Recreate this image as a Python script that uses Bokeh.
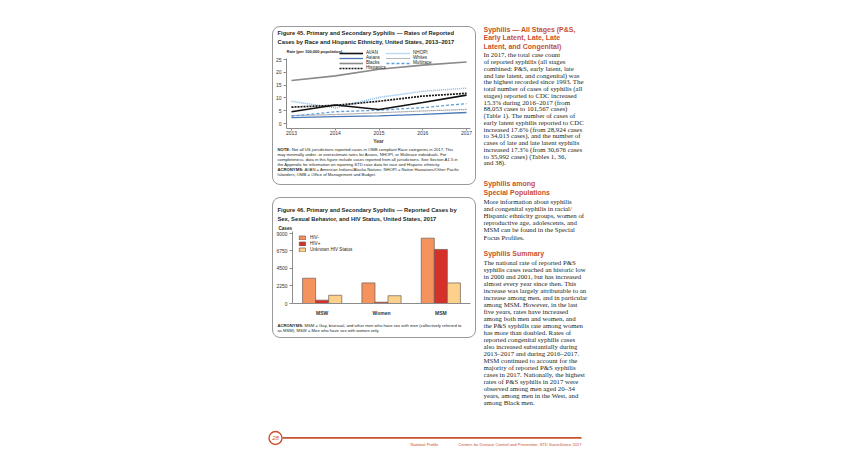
from bokeh.plotting import figure
from bokeh.models import (Range1d, FixedTicker, Label, Legend, LegendItem,
                          ColumnDataSource, FactorRange, Spacer)
from bokeh.layouts import row, column
from bokeh.transform import dodge
from bokeh.core.properties import value
from bokeh.embed import file_html
from bokeh.resources import INLINE

SANS = "Liberation Sans"
SERIF = "Liberation Serif"
ORANGE = "#c9512d"
TXT = "#231f20"
AX = "#8c8c8c"

# ---------------- data: Figure 45 ----------------
years = [2013, 2014, 2015, 2016, 2017]
rate_aian = [4.6, 7.2, 5.5, 8.2, 11.1]
rate_asian = [2.3, 2.7, 3.0, 3.6, 4.3]
rate_black = [16.8, 18.6, 21.2, 22.8, 24.0]
rate_hisp = [6.4, 7.1, 8.7, 10.7, 11.8]
rate_nhopi = [8.7, 6.1, 10.2, 12.6, 13.8]
rate_white = [3.1, 3.5, 4.2, 4.9, 5.5]
rate_multi = [2.9, 4.6, 5.2, 6.2, 7.8]
y45_ticks = [0, 5, 10, 15, 20, 25]

# ---------------- data: Figure 46 ----------------
groups = ["MSW", "Women", "MSM"]
cases_neg = [3250, 2650, 8400]
cases_pos = [430, 170, 6950]
cases_unk = [1060, 1000, 2640]
y46_ticks = [0, 2250, 4500, 6750, 9000]

# ---------------- texts ----------------
title45 = ["Figure 45. Primary and Secondary Syphilis \u2014 Rates of Reported",
           "Cases by Race and Hispanic Ethnicity, United States, 2013\u20132017"]
note45 = [("NOTE:", "Not all US jurisdictions reported cases in OMB compliant Race categories in 2017. This"),
          ("", "may minimally under- or overestimate rates for Asians, NHOPI, or Multirace individuals. For"),
          ("", "completeness, data in this figure include cases reported from all jurisdictions. See Section A1.5 in"),
          ("", "the Appendix for information on reporting STD case data for race and Hispanic ethnicity."),
          ("ACRONYMS:", "AI/AN = American Indians/Alaska Natives; NHOPI = Native Hawaiians/Other Pacific"),
          ("", "Islanders; OMB = Office of Management and Budget.")]
title46 = ["Figure 46. Primary and Secondary Syphilis \u2014 Reported Cases by",
           "Sex, Sexual Behavior, and HIV Status, United States, 2017"]
note46 = [("ACRONYMS:", "MSM = Gay, bisexual, and other men who have sex with men (collectively referred to"),
          ("", "as MSM); MSW = Men who have sex with women only.")]

head1 = ["Syphilis \u2014 All Stages (P&S,", "Early Latent, Late, Late", "Latent, and Congenital)"]
body1 = ["In 2017, the total case count",
         "of reported syphilis (all stages",
         "combined: P&S, early latent, late",
         "and late latent, and congenital) was",
         "the highest recorded since 1993. The",
         "total number of cases of syphilis (all",
         "stages) reported to CDC increased",
         "15.3% during 2016\u20132017 (from",
         "88,053 cases to 101,567 cases)",
         "(Table 1). The number of cases of",
         "early latent syphilis reported to CDC",
         "increased 17.6% (from 28,924 cases",
         "to 34,013 cases), and the number of",
         "cases of late and late latent syphilis",
         "increased 17.3% (from 30,676 cases",
         "to 35,992 cases) (Tables 1, 36,",
         "and 38)."]
head2 = ["Syphilis among", "Special Populations"]
body2 = ["More information about syphilis",
         "and congenital syphilis in racial/",
         "Hispanic ethnicity groups, women of",
         "reproductive age, adolescents, and",
         "MSM can be found in the Special",
         "Focus Profiles."]
head3 = ["Syphilis Summary"]
body3 = ["The national rate of reported P&S",
         "syphilis cases reached an historic low",
         "in 2000 and 2001, but has increased",
         "almost every year since then. This",
         "increase was largely attributable to an",
         "increase among men, and in particular",
         "among MSM. However, in the last",
         "five years, rates have increased",
         "among both men and women, and",
         "the P&S syphilis rate among women",
         "has more than doubled. Rates of",
         "reported congenital syphilis cases",
         "also increased substantially during",
         "2013\u20132017 and during 2016\u20132017.",
         "MSM continued to account for the",
         "majority of reported P&S syphilis",
         "cases in 2017. Nationally, the highest",
         "rates of P&S syphilis in 2017 were",
         "observed among men aged 20\u201334",
         "years, among men in the West, and",
         "among Black men."]
footer_mid = "National Profile"
footer_right = "Centers for Disease Control and Prevention: STD Surveillance 2017"
page_no = "28"

box_style = {"outline": "1px solid #9a9a9a", "outline-offset": "-1px",
             "border-radius": "8px"}


def textfig(w, h, x0, y0, fill=None):
    f = figure(width=w, height=h, output_backend="svg", toolbar_location=None, title=None,
               x_range=Range1d(x0, x0 + w), y_range=Range1d(y0 + h, y0),
               x_axis_type=None, y_axis_type=None, min_border=0, frame_align=False,
               outline_line_color=None, border_fill_color=fill, background_fill_color=fill)
    f.xgrid.grid_line_color = None
    f.ygrid.grid_line_color = None
    return f


def put(f, xs, ys, texts, size, font=SANS, color=TXT, bold=False, align="left", italic=False):
    style = "bold" if bold else ("italic" if italic else "normal")
    f.text(x=xs, y=ys, text=texts, text_font=value(font), text_font_size=f"{size}px",
           text_color=color, text_baseline="middle", text_align=align, text_font_style=style)


def notes(f, x, y0, lines, size=4.2, step=5.0):
    for i, (pre, rest) in enumerate(lines):
        y = y0 + i * step
        if pre:
            put(f, [x], [y], [pre], size, bold=True)
            off = 14.2 if pre.startswith("NOTE") else 27.0
            put(f, [x + off], [y], [rest], size)
        else:
            put(f, [x], [y], [rest], size)


def style_axes(p):
    for ax in (p.xaxis[0], p.yaxis[0]):
        ax.axis_line_color = AX
        ax.major_tick_line_color = AX
        ax.minor_tick_line_color = None
        ax.minor_tick_out = 0
        ax.minor_tick_in = 0
        ax.major_tick_in = 0
        ax.major_label_text_font = SANS
        ax.major_label_text_font_size = "5px"
        ax.major_label_text_color = "#333333"
    p.xgrid.grid_line_color = None
    p.ygrid.grid_line_color = None


# ---------------- Figure 45 ----------------
h45 = textfig(204, 21, 272, 26)
put(h45, [277, 277], [32, 41], title45, 5.8, bold=True)

p45 = figure(width=204, height=99, output_backend="svg", toolbar_location=None,
             title=None, x_range=Range1d(2012.886, 2017.09), y_range=Range1d(-1.95, 29.69),
             min_border_left=13, min_border_right=6, min_border_top=0, min_border_bottom=18,
             frame_align=False,
             border_fill_color=None, background_fill_color=None, outline_line_color=None)
style_axes(p45)
p45.yaxis.ticker = FixedTicker(ticks=y45_ticks)
p45.yaxis.bounds = (-1.95, 25.3)
p45.yaxis.major_tick_out = 3
p45.yaxis.major_label_standoff = 2
p45.xaxis.ticker = FixedTicker(ticks=years)
p45.xaxis.major_tick_out = 2
p45.xaxis.major_label_standoff = 0
p45.xaxis.axis_label = "Year"
p45.xaxis.axis_label_text_font = SANS
p45.xaxis.axis_label_text_font_size = "5px"
p45.xaxis.axis_label_text_font_style = "bold"
p45.xaxis.axis_label_standoff = 0

r_black = p45.line(years, rate_black, line_color="#8a8a8a", line_width=1.6)
r_white = p45.line(years, rate_white, line_color="#6e6e6e", line_width=1.2, line_dash="1 1")
r_asian = p45.line(years, rate_asian, line_color="#4a78b8", line_width=1.3)
r_multi = p45.line(years, rate_multi, line_color="#5fa0d8", line_width=1.3, line_dash="3 2")
r_nhopi = p45.line(years, rate_nhopi, line_color="#7fb5e6", line_width=1.5, line_dash="1 1")
r_hisp = p45.line(years, rate_hisp, line_color="#1a1a1a", line_width=1.7, line_dash="2 1")
r_aian = p45.line(years, rate_aian, line_color="#111111", line_width=1.6)

leg45 = Legend(items=[LegendItem(label="AI/AN", renderers=[r_aian]),
                      LegendItem(label="Asians", renderers=[r_asian]),
                      LegendItem(label="Blacks", renderers=[r_black]),
                      LegendItem(label="Hispanics", renderers=[r_hisp]),
                      LegendItem(label="NHOPI", renderers=[r_nhopi]),
                      LegendItem(label="Whites", renderers=[r_white]),
                      LegendItem(label="Multirace", renderers=[r_multi])],
               location=(53, 58), orientation="vertical", nrows=4,
               label_text_font=SANS, label_text_font_size="4.6px", label_text_color=TXT,
               glyph_width=24, glyph_height=4, label_height=4, label_width=20,
               label_standoff=3, spacing=0, padding=0, margin=0,
               border_line_color=None, background_fill_alpha=0)
p45.add_layout(leg45)
p45.add_layout(Label(x=0, y=77, x_units="screen", y_units="screen",
                     text="Rate (per 100,000 population)", text_font=SANS,
                     text_font_size="4.0px", text_font_style="bold", text_color=TXT,
                     text_baseline="middle"))

n45 = textfig(204, 39, 272, 146)
notes(n45, 277, 148.6, note45)

box45 = column(h45, p45, n45, styles=box_style)

# ---------------- Figure 46 ----------------
h46 = textfig(204, 34, 272, 197)
put(h46, [277, 277], [209, 218], title46, 5.8, bold=True)
put(h46, [278], [228], ["Cases"], 4.6, bold=True)

src46 = ColumnDataSource(dict(groups=groups, neg=cases_neg, pos=cases_pos, unk=cases_unk))
p46 = figure(width=204, height=87, output_backend="svg", toolbar_location=None,
             title=None, x_range=FactorRange(factors=groups), y_range=Range1d(0, 9257),
             min_border_left=20, min_border_right=6, min_border_top=0, min_border_bottom=15,
             frame_align=False,
             border_fill_color=None, background_fill_color=None, outline_line_color=None)
style_axes(p46)
p46.yaxis.ticker = FixedTicker(ticks=y46_ticks)
p46.yaxis.major_tick_out = 3
p46.yaxis.major_label_standoff = 2
p46.xaxis.major_tick_line_color = None
p46.xaxis.major_tick_out = 0
p46.xaxis.major_label_text_font_style = "bold"
p46.xaxis.major_label_standoff = 6

bw = 0.22
b_neg = p46.vbar(x=dodge("groups", -bw, range=p46.x_range), top="neg", width=bw, source=src46,
                 fill_color="#f5935f", line_color="#6b5b53", line_width=0.7)
b_pos = p46.vbar(x=dodge("groups", 0.0, range=p46.x_range), top="pos", width=bw, source=src46,
                 fill_color="#d5302a", line_color="#6b5b53", line_width=0.7)
b_unk = p46.vbar(x=dodge("groups", bw, range=p46.x_range), top="unk", width=bw, source=src46,
                 fill_color="#fdd18c", line_color="#6b5b53", line_width=0.7)
leg46 = Legend(items=[LegendItem(label="HIV-", renderers=[b_neg]),
                      LegendItem(label="HIV+", renderers=[b_pos]),
                      LegendItem(label="Unknown HIV Status", renderers=[b_unk])],
               location=(6, 51), orientation="vertical",
               label_text_font=SANS, label_text_font_size="4.6px", label_text_color=TXT,
               glyph_width=8, glyph_height=5, label_height=5, label_standoff=4,
               spacing=1, padding=0, margin=0, border_line_color=None, background_fill_alpha=0)
p46.add_layout(leg46)

n46 = textfig(204, 20, 272, 318)
notes(n46, 277, 325, note46)

box46 = column(h46, p46, n46, styles=box_style)

# ---------------- right text column ----------------
pr = textfig(130, 428, 483, 0, fill="white")


def block(lines, y0, step, font, size, color, bold=False):
    ys = [y0 + i * step for i in range(len(lines))]
    put(pr, [483] * len(lines), ys, lines, size, font=font, color=color, bold=bold)


block(head1, 29.0, 8.4, SANS, 7, ORANGE, bold=True)
block(body1, 54.3, 6.75, SERIF, 6.8, TXT)
block(head2, 183.3, 8.4, SANS, 7, ORANGE, bold=True)
block(body2, 200.5, 7.2, SERIF, 6.8, TXT)
block(head3, 252.7, 8.4, SANS, 7, ORANGE, bold=True)
block(body3, 262.3, 6.97, SERIF, 6.8, TXT)

# ---------------- footer ----------------
pf = textfig(620, 24, 0, 428, fill="white")
pf.segment(x0=[282], y0=[437.3], x1=[581], y1=[437.3], line_color=ORANGE, line_width=1.8)
pf.scatter(x=[275], y=[437.5], size=13, marker="circle", fill_color="white",
           line_color=ORANGE, line_width=1.4)
put(pf, [275], [437.8], [page_no], 6, color=ORANGE, align="center", italic=True)
put(pf, [410], [443.5], [footer_mid], 4.1, color=ORANGE)
put(pf, [581], [443.5], [footer_right], 4.1, color=ORANGE, align="right")

left_col = column(Spacer(width=204, height=26), box45, Spacer(width=204, height=12), box46)
main = row(Spacer(width=272, height=10), left_col, Spacer(width=7, height=10), pr)
page = column(main, pf)

open("out.html", "w").write(file_html(page, INLINE))
